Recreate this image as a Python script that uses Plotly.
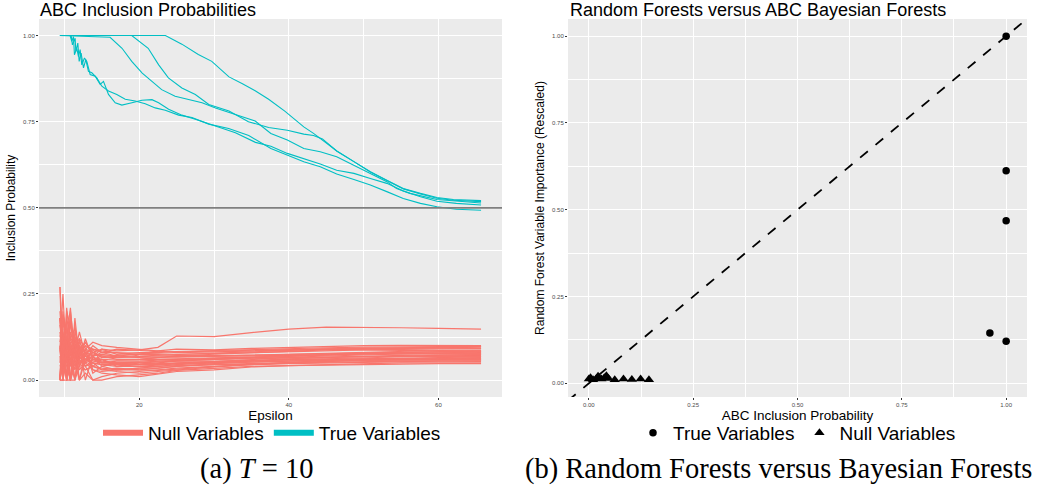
import plotly.graph_objects as go

# ---------------- data: left panel (ABC inclusion probabilities) ----------------
TRUE_A_EPS = [9.4, 23.5, 25.7, 27.9, 29.7, 32.0, 33.8, 35.5, 37.3, 39.5, 42.0, 43.3, 45.5, 46.4, 48.7, 50.9, 53.1, 55.3, 57.6, 59.8, 62.0, 65.7]
TRUE_A_P = [1.0, 1.0, 0.975, 0.945, 0.925, 0.88, 0.86, 0.84, 0.815, 0.78, 0.735, 0.716, 0.68, 0.665, 0.634, 0.605, 0.58, 0.556, 0.542, 0.53, 0.524, 0.521]

TRUE_B_EPS = [9.4, 19.0, 21.2, 22.6, 23.9, 25.7, 27.5, 29.3, 32.0, 34.6, 37.3, 39.8, 42.0, 43.3, 44.5, 46.4, 48.7, 50.9, 53.1, 55.3, 57.6, 59.8, 62.0, 65.7]
TRUE_B_P = [1.0, 1.0, 0.963, 0.915, 0.877, 0.848, 0.829, 0.80, 0.781, 0.75, 0.733, 0.725, 0.714, 0.71, 0.70, 0.665, 0.634, 0.604, 0.579, 0.555, 0.54, 0.528, 0.522, 0.518]

TRUE_C_EPS = [9.4, 16.1, 17.7, 19.0, 20.4, 21.7, 23.0, 24.8, 26.6, 28.4, 30.2, 32.9, 35.5, 37.6, 39.8, 42.0, 44.2, 46.4, 48.7, 50.9, 53.1, 54.4, 56.2, 59.8, 65.7]
TRUE_C_P = [1.0, 0.995, 0.963, 0.925, 0.891, 0.867, 0.843, 0.824, 0.814, 0.805, 0.79, 0.771, 0.752, 0.716, 0.697, 0.672, 0.663, 0.648, 0.624, 0.60, 0.576, 0.556, 0.542, 0.524, 0.514]

TRUE_D_EPS = [9.4, 10.76, 10.98, 11.21, 11.34, 11.65, 11.88, 12.10, 12.32, 12.68, 12.99, 13.44, 14.11, 14.78, 15.22, 15.89, 16.79, 17.68, 19.02, 20.36, 21.70, 22.59, 23.93, 25.71, 27.50, 30.18, 32.86, 35.54, 37.6, 39.8, 42.0, 44.2, 46.4, 48.7, 50.9, 53.1, 55.3, 57.6, 59.8, 62.4, 65.7]
TRUE_D_P = [1.0, 1.0, 0.983, 0.997, 0.944, 0.963, 0.939, 0.959, 0.915, 0.935, 0.925, 0.887, 0.882, 0.858, 0.867, 0.829, 0.805, 0.798, 0.805, 0.812, 0.814, 0.805, 0.786, 0.769, 0.757, 0.738, 0.718, 0.69, 0.679, 0.658, 0.643, 0.627, 0.609, 0.60, 0.585, 0.571, 0.549, 0.532, 0.519, 0.513, 0.508]

TRUE_E_EPS = [9.4, 10.9, 11.07, 11.43, 11.52, 11.79, 11.97, 12.23, 12.55, 12.86, 13.21, 13.66, 14.33, 15.0, 15.89, 17.0, 18.13, 19.46, 20.8, 22.14, 23.48, 25.27, 27.05, 29.29, 31.96, 34.64, 37.6, 39.8, 42.0, 44.2, 46.4, 48.7, 50.9, 53.1, 55.3, 57.6, 59.8, 62.4, 65.7]
TRUE_E_P = [1.0, 1.0, 0.973, 0.992, 0.954, 0.978, 0.925, 0.949, 0.906, 0.930, 0.896, 0.892, 0.877, 0.853, 0.839, 0.829, 0.815, 0.81, 0.802, 0.79, 0.783, 0.769, 0.762, 0.743, 0.73, 0.71, 0.672, 0.653, 0.634, 0.619, 0.598, 0.582, 0.566, 0.547, 0.527, 0.513, 0.503, 0.496, 0.493]

NULL_EPS = [9.4, 9.8, 10.3, 10.8, 11.4, 12.0, 12.8, 13.8, 15, 17, 20, 22.5, 25, 30, 35, 40, 45, 50, 55, 60, 65.7]
NULL_01 = [0.10, 0.00, 0.18, 0.12, 0.15, 0.09, 0.11, 0.08, 0.09, 0.085, 0.088, 0.095, 0.128, 0.126, 0.138, 0.148, 0.154, 0.154, 0.152, 0.150, 0.148]
NULL_02 = [0.27, 0.10, 0.00, 0.20, 0.08, 0.14, 0.07, 0.10, 0.08, 0.07, 0.075, 0.085, 0.090, 0.088, 0.092, 0.095, 0.098, 0.100, 0.101, 0.100, 0.100]
NULL_03 = [0.00, 0.20, 0.09, 0.00, 0.18, 0.06, 0.12, 0.06, 0.07, 0.06, 0.060, 0.065, 0.070, 0.075, 0.080, 0.085, 0.088, 0.090, 0.092, 0.094, 0.096]
NULL_04 = [0.18, 0.00, 0.21, 0.10, 0.00, 0.12, 0.05, 0.09, 0.05, 0.05, 0.045, 0.050, 0.055, 0.060, 0.065, 0.070, 0.075, 0.078, 0.080, 0.082, 0.085]
NULL_05 = [0.00, 0.15, 0.00, 0.17, 0.09, 0.00, 0.08, 0.04, 0.06, 0.045, 0.040, 0.040, 0.045, 0.050, 0.055, 0.060, 0.062, 0.065, 0.068, 0.070, 0.072]
NULL_06 = [0.09, 0.25, 0.05, 0.00, 0.14, 0.10, 0.00, 0.07, 0.04, 0.03, 0.030, 0.035, 0.040, 0.045, 0.045, 0.048, 0.050, 0.052, 0.053, 0.055, 0.056]
NULL_07 = [0.00, 0.00, 0.12, 0.21, 0.05, 0.08, 0.10, 0.03, 0.02, 0.015, 0.010, 0.017, 0.025, 0.030, 0.038, 0.042, 0.045, 0.048, 0.050, 0.050, 0.050]
NULL_08 = [0.18, 0.09, 0.00, 0.06, 0.11, 0.00, 0.06, 0.05, 0.03, 0.025, 0.020, 0.025, 0.030, 0.038, 0.045, 0.050, 0.055, 0.058, 0.060, 0.062, 0.064]
NULL_09 = [0.00, 0.19, 0.14, 0.00, 0.00, 0.07, 0.04, 0.00, 0.01, 0.02, 0.025, 0.030, 0.035, 0.040, 0.046, 0.052, 0.057, 0.060, 0.063, 0.066, 0.068]
NULL_10 = [0.09, 0.00, 0.20, 0.15, 0.10, 0.12, 0.09, 0.11, 0.10, 0.095, 0.090, 0.085, 0.080, 0.082, 0.085, 0.088, 0.090, 0.088, 0.086, 0.085, 0.084]
NULL_11 = [0.18, 0.12, 0.00, 0.09, 0.12, 0.06, 0.08, 0.07, 0.075, 0.07, 0.065, 0.060, 0.060, 0.062, 0.066, 0.070, 0.074, 0.076, 0.078, 0.079, 0.080]
NULL_12 = [0.00, 0.09, 0.17, 0.05, 0.00, 0.09, 0.05, 0.06, 0.05, 0.055, 0.055, 0.058, 0.058, 0.060, 0.062, 0.064, 0.066, 0.068, 0.070, 0.072, 0.074]
NULL_13 = [0.09, 0.00, 0.00, 0.13, 0.08, 0.04, 0.07, 0.05, 0.045, 0.04, 0.050, 0.052, 0.055, 0.055, 0.058, 0.060, 0.061, 0.062, 0.063, 0.064, 0.065]
NULL_14 = [0.00, 0.18, 0.10, 0.07, 0.16, 0.05, 0.03, 0.04, 0.035, 0.03, 0.035, 0.035, 0.040, 0.048, 0.052, 0.056, 0.058, 0.060, 0.060, 0.060, 0.060]
NULL_15 = [0.18, 0.00, 0.08, 0.00, 0.06, 0.11, 0.08, 0.09, 0.08, 0.08, 0.070, 0.072, 0.075, 0.078, 0.082, 0.085, 0.090, 0.092, 0.094, 0.095, 0.097]
NULL_16 = [0.00, 0.10, 0.00, 0.10, 0.05, 0.00, 0.02, 0.00, 0.00, 0.01, 0.015, 0.020, 0.028, 0.035, 0.040, 0.042, 0.044, 0.046, 0.047, 0.048, 0.048]
NULL_17 = [0.09, 0.14, 0.06, 0.09, 0.04, 0.08, 0.06, 0.08, 0.065, 0.065, 0.068, 0.070, 0.068, 0.068, 0.070, 0.072, 0.075, 0.077, 0.078, 0.078, 0.078]
NULL_18 = [0.27, 0.00, 0.13, 0.08, 0.10, 0.04, 0.09, 0.02, 0.04, 0.05, 0.050, 0.045, 0.050, 0.052, 0.056, 0.062, 0.066, 0.070, 0.072, 0.073, 0.074]
NULL_19 = [0.00, 0.05, 0.09, 0.18, 0.07, 0.10, 0.04, 0.06, 0.06, 0.04, 0.040, 0.045, 0.048, 0.053, 0.060, 0.066, 0.070, 0.073, 0.076, 0.080, 0.082]
NULL_20 = [0.13, 0.09, 0.00, 0.00, 0.12, 0.07, 0.11, 0.07, 0.09, 0.075, 0.080, 0.080, 0.083, 0.086, 0.090, 0.092, 0.094, 0.096, 0.096, 0.098, 0.098]
NULL_21 = [0.05, 0.13, 0.07, 0.11, 0.06, 0.09, 0.07, 0.065, 0.06, 0.058, 0.058, 0.060, 0.062, 0.065, 0.068, 0.071, 0.073, 0.075, 0.076, 0.077, 0.077]
NULL_22 = [0.14, 0.06, 0.11, 0.04, 0.09, 0.05, 0.06, 0.055, 0.05, 0.048, 0.046, 0.048, 0.050, 0.053, 0.056, 0.058, 0.060, 0.061, 0.062, 0.062, 0.063]
NULL_23 = [0.00, 0.12, 0.05, 0.14, 0.10, 0.08, 0.10, 0.09, 0.085, 0.08, 0.078, 0.076, 0.075, 0.077, 0.080, 0.083, 0.086, 0.088, 0.089, 0.090, 0.091]
NULL_24 = [0.20, 0.08, 0.15, 0.06, 0.03, 0.06, 0.04, 0.05, 0.045, 0.045, 0.043, 0.045, 0.047, 0.050, 0.053, 0.056, 0.058, 0.059, 0.059, 0.058, 0.058]
NULL_25 = [0.07, 0.00, 0.10, 0.08, 0.13, 0.07, 0.09, 0.08, 0.07, 0.068, 0.066, 0.066, 0.067, 0.070, 0.073, 0.076, 0.079, 0.082, 0.084, 0.086, 0.087]
NULL_26 = [0.00, 0.08, 0.04, 0.00, 0.07, 0.03, 0.05, 0.03, 0.025, 0.03, 0.035, 0.040, 0.042, 0.045, 0.048, 0.052, 0.055, 0.057, 0.058, 0.059, 0.060]
NULL_27 = [0.11, 0.17, 0.09, 0.12, 0.08, 0.10, 0.08, 0.075, 0.07, 0.072, 0.075, 0.074, 0.072, 0.071, 0.072, 0.074, 0.076, 0.079, 0.081, 0.083, 0.084]
NULL_28 = [0.04, 0.07, 0.00, 0.05, 0.09, 0.05, 0.07, 0.06, 0.055, 0.05, 0.052, 0.055, 0.058, 0.062, 0.064, 0.066, 0.068, 0.069, 0.069, 0.069, 0.069]
NULL_29 = [0.16, 0.11, 0.07, 0.00, 0.04, 0.09, 0.06, 0.07, 0.08, 0.09, 0.085, 0.083, 0.082, 0.084, 0.087, 0.090, 0.092, 0.093, 0.093, 0.092, 0.092]
NULL_30 = [0.00, 0.00, 0.06, 0.09, 0.00, 0.04, 0.03, 0.04, 0.03, 0.035, 0.030, 0.028, 0.032, 0.040, 0.046, 0.050, 0.052, 0.054, 0.055, 0.055, 0.054]

REFERENCE_LEVEL = 0.5

# ---------------- data: right panel (RF importance vs ABC inclusion) ----------------
TRUE_VAR_ABC = [1.0, 1.0, 1.0, 0.961, 1.0]
TRUE_VAR_RF = [1.0, 0.612, 0.468, 0.145, 0.121]
NULL_VAR_ABC = [0.000, 0.004, 0.010, 0.018, 0.022, 0.030, 0.037, 0.042, 0.047, 0.062, 0.083, 0.103, 0.124, 0.144]
NULL_VAR_RF = [0.012, 0.016, 0.010, 0.014, 0.020, 0.012, 0.016, 0.022, 0.014, 0.010, 0.012, 0.011, 0.012, 0.010]
ABLINE_INTERCEPT = 0.0
ABLINE_SLOPE = 1.0

# ---------------- styling ----------------
W, H = 1047, 491
RED = "#F8766D"
TEAL = "#00BFC4"
PANEL = "#EBEBEB"
TICKC = "#4D4D4D"
FONT = "Liberation Sans"

X1_RANGE = [6.6, 68.5]
Y1_RANGE = [-0.049, 1.048]
X2_RANGE = [-0.05, 1.05]
Y2_RANGE = [-0.0395, 1.0495]

def px_x(p):
    return p / W

def px_y(p):
    return 1 - p / H

fig = go.Figure()

null_series = [NULL_01, NULL_02, NULL_03, NULL_04, NULL_05, NULL_06, NULL_07, NULL_08, NULL_09, NULL_10,
               NULL_11, NULL_12, NULL_13, NULL_14, NULL_15, NULL_16, NULL_17, NULL_18, NULL_19, NULL_20,
               NULL_21, NULL_22, NULL_23, NULL_24, NULL_25, NULL_26, NULL_27, NULL_28, NULL_29, NULL_30]
for s in null_series:
    fig.add_trace(go.Scatter(x=NULL_EPS, y=s, mode="lines", line=dict(color=RED, width=1.2),
                             showlegend=False, hoverinfo="skip", xaxis="x", yaxis="y"))

true_series = [(TRUE_A_EPS, TRUE_A_P), (TRUE_B_EPS, TRUE_B_P), (TRUE_C_EPS, TRUE_C_P),
               (TRUE_D_EPS, TRUE_D_P), (TRUE_E_EPS, TRUE_E_P)]
for ex, py in true_series:
    fig.add_trace(go.Scatter(x=ex, y=py, mode="lines", line=dict(color=TEAL, width=1.1),
                             showlegend=False, hoverinfo="skip", xaxis="x", yaxis="y"))

# horizontal reference line at 0.5
fig.add_trace(go.Scatter(x=X1_RANGE, y=[REFERENCE_LEVEL, REFERENCE_LEVEL], mode="lines",
                         line=dict(color="#7F7F7F", width=1.7), showlegend=False,
                         hoverinfo="skip", xaxis="x", yaxis="y"))

# legend entries for left panel
fig.add_trace(go.Scatter(x=[None], y=[None], mode="lines", name="Null Variables",
                         line=dict(color=RED, width=6), legend="legend", xaxis="x", yaxis="y"))
fig.add_trace(go.Scatter(x=[None], y=[None], mode="lines", name="True Variables",
                         line=dict(color=TEAL, width=6), legend="legend", xaxis="x", yaxis="y"))

# right panel: abline
ab_x = X2_RANGE
ab_y = [ABLINE_INTERCEPT + ABLINE_SLOPE * v for v in ab_x]
fig.add_trace(go.Scatter(x=ab_x, y=ab_y, mode="lines", line=dict(color="black", width=1.8, dash="10px,10px"),
                         showlegend=False, hoverinfo="skip", xaxis="x2", yaxis="y2"))
fig.add_trace(go.Scatter(x=TRUE_VAR_ABC, y=TRUE_VAR_RF, mode="markers", name="True Variables",
                         marker=dict(symbol="circle", size=7.5, color="black"),
                         legend="legend2", xaxis="x2", yaxis="y2"))
fig.add_trace(go.Scatter(x=NULL_VAR_ABC, y=NULL_VAR_RF, mode="markers", name="Null Variables",
                         marker=dict(symbol="triangle-up", size=9, color="black"),
                         legend="legend2", xaxis="x2", yaxis="y2"))

axis_common = dict(showline=False, zeroline=False, gridcolor="white", gridwidth=1.1,
                   ticks="outside", ticklen=2, tickwidth=0.8, tickcolor="#333333",
                   tickfont=dict(family=FONT, size=6, color=TICKC))
minor_x1 = dict(showgrid=True, gridcolor="white", gridwidth=0.6, tickvals=[10, 30, 50])
minor_q = dict(showgrid=True, gridcolor="white", gridwidth=0.6, tickvals=[0.125, 0.375, 0.625, 0.875])

Y_DOMAIN = [px_y(397), px_y(19)]
QUARTERS = [0, 0.25, 0.5, 0.75, 1.0]

fig.update_layout(
    width=W, height=H,
    margin=dict(l=0, r=0, t=0, b=0),
    paper_bgcolor="white", plot_bgcolor=PANEL,
    font=dict(family=FONT, color="black"),
    xaxis=dict(domain=[px_x(39), px_x(502)], range=X1_RANGE, tickvals=[20, 40, 60], minor=minor_x1,
               title=dict(text="Epsilon", font=dict(family=FONT, size=13.5), standoff=0),
               anchor="y", **axis_common),
    yaxis=dict(domain=Y_DOMAIN, range=Y1_RANGE, tickvals=QUARTERS, tickformat=".2f", minor=minor_q,
               title=dict(text="Inclusion Probability", font=dict(family=FONT, size=12), standoff=4),
               anchor="x", **axis_common),
    xaxis2=dict(domain=[px_x(568), px_x(1027)], range=X2_RANGE, tickvals=QUARTERS, tickformat=".2f", minor=minor_q,
                title=dict(text="ABC Inclusion Probability", font=dict(family=FONT, size=13.5), standoff=0),
                anchor="y2", **axis_common),
    yaxis2=dict(domain=Y_DOMAIN, range=Y2_RANGE, tickvals=QUARTERS, tickformat=".2f", minor=minor_q,
                title=dict(text="Random Forest Variable Importance (Rescaled)", font=dict(family=FONT, size=12), standoff=4),
                anchor="x2", **axis_common),
    legend=dict(orientation="h", x=px_x(272), xanchor="center", y=px_y(433), yanchor="middle",
                font=dict(family=FONT, size=19), bgcolor="rgba(0,0,0,0)", itemwidth=40,
                traceorder="normal"),
    legend2=dict(orientation="h", x=px_x(797), xanchor="center", y=px_y(433), yanchor="middle",
                 font=dict(family=FONT, size=19), bgcolor="rgba(0,0,0,0)", itemwidth=30,
                 traceorder="normal"),
    annotations=[
        dict(text="ABC Inclusion Probabilities", x=px_x(38), y=px_y(10), xref="paper", yref="paper",
             xanchor="left", yanchor="middle", showarrow=False, font=dict(family=FONT, size=18)),
        dict(text="Random Forests versus ABC Bayesian Forests", x=px_x(568), y=px_y(10), xref="paper", yref="paper",
             xanchor="left", yanchor="middle", showarrow=False, font=dict(family=FONT, size=18)),
        dict(text="(a) <i>T</i> = 10", x=px_x(256), y=px_y(469), xref="paper", yref="paper",
             xanchor="center", yanchor="middle", showarrow=False,
             font=dict(family="Liberation Serif", size=28.5)),
        dict(text="(b) Random Forests versus Bayesian Forests", x=px_x(778), y=px_y(469), xref="paper", yref="paper",
             xanchor="center", yanchor="middle", showarrow=False,
             font=dict(family="Liberation Serif", size=28.5)),
    ],
)

fig.write_html("out.html", config={"displayModeBar": False},
               post_script="document.body.style.margin='0';")
